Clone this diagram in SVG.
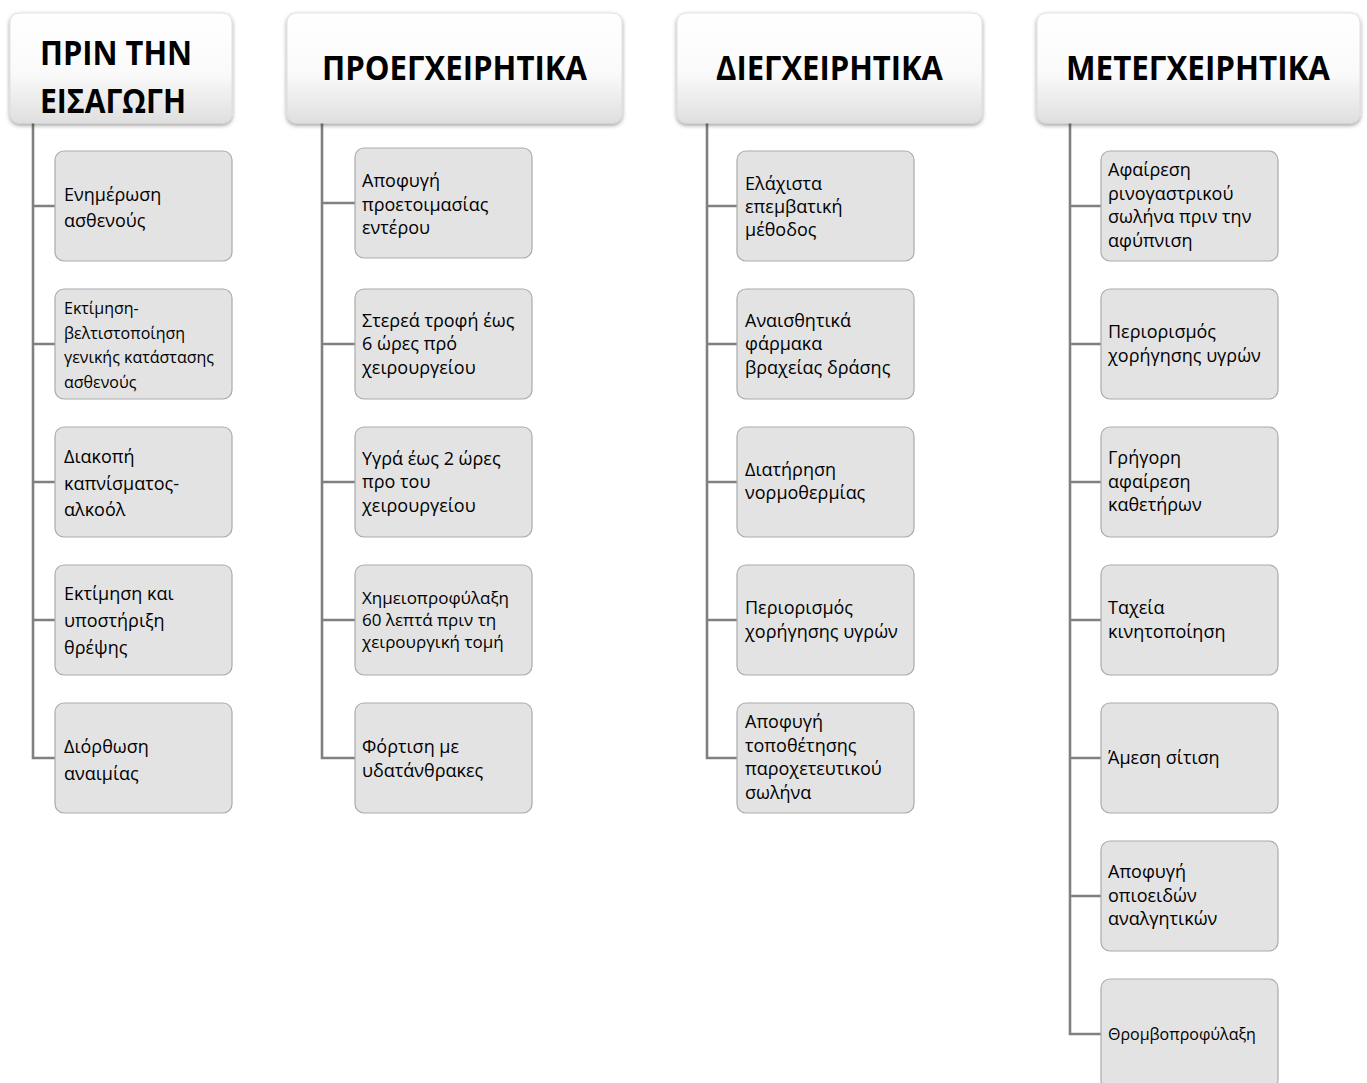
<svg xmlns="http://www.w3.org/2000/svg" width="1367" height="1083" viewBox="0 0 1367 1083">
<style>
.hdr{fill:url(#hg);stroke:#d9d9d9;stroke-width:0.8;filter:url(#sh)}
.ht{font-family:"Open Sans","Noto Sans","DejaVu Sans",sans-serif;font-weight:bold;font-size:34px;fill:#000}
.box{fill:#e3e3e3;stroke:#ababab;stroke-width:1.2}
.t{font-family:"Open Sans","Noto Sans","DejaVu Sans",sans-serif;font-size:18px;fill:#000}
.s{font-size:16px}
.m{font-size:17px}
.c{fill:none;stroke:#808080;stroke-width:2.6}
</style>
<defs>
<linearGradient id="hg" x1="0" y1="0" x2="0" y2="1">
<stop offset="0" stop-color="#ffffff"/>
<stop offset="0.55" stop-color="#fafafa"/>
<stop offset="1" stop-color="#dfdfdf"/>
</linearGradient>
<filter id="sh" x="-10%" y="-10%" width="120%" height="130%">
<feDropShadow dx="0" dy="2" stdDeviation="2.2" flood-color="#000" flood-opacity="0.4"/>
</filter>
</defs>
<rect width="1367" height="1083" fill="#fff"/>

<g id="connectors">
<path class="c" d="M33 123V758H55M33 206H55M33 344H55M33 482H55M33 620H55"/>
<path class="c" d="M322 123V758H355M322 203H355M322 344H355M322 482H355M322 620H355"/>
<path class="c" d="M707 123V758H737M707 206H737M707 344H737M707 482H737M707 620H737"/>
<path class="c" d="M1070 123V1034H1101M1070 206H1101M1070 344H1101M1070 482H1101M1070 620H1101M1070 758H1101M1070 896H1101"/>
</g>

<g id="h1"><rect class="hdr" x="10" y="13" width="222" height="110" rx="9"/>
<text class="ht" x="40" y="65" textLength="152" lengthAdjust="spacingAndGlyphs">ΠΡΙΝ ΤΗΝ</text>
<text class="ht" x="40" y="113" textLength="146" lengthAdjust="spacingAndGlyphs">ΕΙΣΑΓΩΓΗ</text></g>
<g id="h2"><rect class="hdr" x="287" y="13" width="335" height="110" rx="9"/>
<text class="ht" x="322" y="80" textLength="265" lengthAdjust="spacingAndGlyphs">ΠΡΟΕΓΧΕΙΡΗΤΙΚΑ</text></g>
<g id="h3"><rect class="hdr" x="677" y="13" width="305" height="110" rx="9"/>
<text class="ht" x="716" y="80" textLength="227" lengthAdjust="spacingAndGlyphs">ΔΙΕΓΧΕΙΡΗΤΙΚΑ</text></g>
<g id="h4"><rect class="hdr" x="1037" y="13" width="323" height="110" rx="9"/>
<text class="ht" x="1066" y="80" textLength="264" lengthAdjust="spacingAndGlyphs">ΜΕΤΕΓΧΕΙΡΗΤΙΚΑ</text></g>

<g id="c1n1"><rect class="box" x="55" y="151" width="177" height="110" rx="9"/>
<text class="t" x="64"><tspan x="64" y="201">Ενημέρωση</tspan><tspan x="64" y="227">ασθενούς</tspan></text></g>
<g id="c1n2"><rect class="box" x="55" y="289" width="177" height="110" rx="9"/>
<text class="t s" x="64"><tspan x="64" y="314">Εκτίμηση-</tspan><tspan x="64" y="339">βελτιστοποίηση</tspan><tspan x="64" y="363">γενικής κατάστασης</tspan><tspan x="64" y="388">ασθενούς</tspan></text></g>
<g id="c1n3"><rect class="box" x="55" y="427" width="177" height="110" rx="9"/>
<text class="t" x="64"><tspan x="64" y="463">Διακοπή</tspan><tspan x="64" y="490">καπνίσματος-</tspan><tspan x="64" y="516">αλκοόλ</tspan></text></g>
<g id="c1n4"><rect class="box" x="55" y="565" width="177" height="110" rx="9"/>
<text class="t" x="64"><tspan x="64" y="600">Εκτίμηση και</tspan><tspan x="64" y="627">υποστήριξη</tspan><tspan x="64" y="654">θρέψης</tspan></text></g>
<g id="c1n5"><rect class="box" x="55" y="703" width="177" height="110" rx="9"/>
<text class="t" x="64"><tspan x="64" y="753">Διόρθωση</tspan><tspan x="64" y="780">αναιμίας</tspan></text></g>

<g id="c2n1"><rect class="box" x="355" y="148" width="177" height="110" rx="9"/>
<text class="t" x="362"><tspan x="362" y="187">Αποφυγή</tspan><tspan x="362" y="211">προετοιμασίας</tspan><tspan x="362" y="234">εντέρου</tspan></text></g>
<g id="c2n2"><rect class="box" x="355" y="289" width="177" height="110" rx="9"/>
<text class="t" x="362"><tspan x="362" y="327">Στερεά τροφή έως</tspan><tspan x="362" y="350">6 ώρες πρό</tspan><tspan x="362" y="374">χειρουργείου</tspan></text></g>
<g id="c2n3"><rect class="box" x="355" y="427" width="177" height="110" rx="9"/>
<text class="t" x="362"><tspan x="362" y="465">Υγρά έως 2 ώρες</tspan><tspan x="362" y="488">προ του</tspan><tspan x="362" y="512">χειρουργείου</tspan></text></g>
<g id="c2n4"><rect class="box" x="355" y="565" width="177" height="110" rx="9"/>
<text class="t m" x="362"><tspan x="362" y="604">Χημειοπροφύλαξη</tspan><tspan x="362" y="626">60 λεπτά πριν τη</tspan><tspan x="362" y="648">χειρουργική τομή</tspan></text></g>
<g id="c2n5"><rect class="box" x="355" y="703" width="177" height="110" rx="9"/>
<text class="t" x="362"><tspan x="362" y="753">Φόρτιση με</tspan><tspan x="362" y="777">υδατάνθρακες</tspan></text></g>

<g id="c3n1"><rect class="box" x="737" y="151" width="177" height="110" rx="9"/>
<text class="t" x="745"><tspan x="745" y="190">Ελάχιστα</tspan><tspan x="745" y="213">επεμβατική</tspan><tspan x="745" y="236">μέθοδος</tspan></text></g>
<g id="c3n2"><rect class="box" x="737" y="289" width="177" height="110" rx="9"/>
<text class="t" x="745"><tspan x="745" y="327">Αναισθητικά</tspan><tspan x="745" y="350">φάρμακα</tspan><tspan x="745" y="374">βραχείας δράσης</tspan></text></g>
<g id="c3n3"><rect class="box" x="737" y="427" width="177" height="110" rx="9"/>
<text class="t" x="745"><tspan x="745" y="476">Διατήρηση</tspan><tspan x="745" y="499">νορμοθερμίας</tspan></text></g>
<g id="c3n4"><rect class="box" x="737" y="565" width="177" height="110" rx="9"/>
<text class="t" x="745"><tspan x="745" y="614">Περιορισμός</tspan><tspan x="745" y="638">χορήγησης υγρών</tspan></text></g>
<g id="c3n5"><rect class="box" x="737" y="703" width="177" height="110" rx="9"/>
<text class="t" x="745"><tspan x="745" y="728">Αποφυγή</tspan><tspan x="745" y="752">τοποθέτησης</tspan><tspan x="745" y="775">παροχετευτικού</tspan><tspan x="745" y="799">σωλήνα</tspan></text></g>

<g id="c4n1"><rect class="box" x="1101" y="151" width="177" height="110" rx="9"/>
<text class="t" x="1108"><tspan x="1108" y="176">Αφαίρεση</tspan><tspan x="1108" y="200">ρινογαστρικού</tspan><tspan x="1108" y="223">σωλήνα πριν την</tspan><tspan x="1108" y="247">αφύπνιση</tspan></text></g>
<g id="c4n2"><rect class="box" x="1101" y="289" width="177" height="110" rx="9"/>
<text class="t" x="1108"><tspan x="1108" y="338">Περιορισμός</tspan><tspan x="1108" y="362">χορήγησης υγρών</tspan></text></g>
<g id="c4n3"><rect class="box" x="1101" y="427" width="177" height="110" rx="9"/>
<text class="t" x="1108"><tspan x="1108" y="464">Γρήγορη</tspan><tspan x="1108" y="488">αφαίρεση</tspan><tspan x="1108" y="511">καθετήρων</tspan></text></g>
<g id="c4n4"><rect class="box" x="1101" y="565" width="177" height="110" rx="9"/>
<text class="t" x="1108"><tspan x="1108" y="614">Ταχεία</tspan><tspan x="1108" y="638">κινητοποίηση</tspan></text></g>
<g id="c4n5"><rect class="box" x="1101" y="703" width="177" height="110" rx="9"/>
<text class="t" x="1108" y="764">Άμεση σίτιση</text></g>
<g id="c4n6"><rect class="box" x="1101" y="841" width="177" height="110" rx="9"/>
<text class="t" x="1108"><tspan x="1108" y="878">Αποφυγή</tspan><tspan x="1108" y="902">οπιοειδών</tspan><tspan x="1108" y="925">αναλγητικών</tspan></text></g>
<g id="c4n7"><rect class="box" x="1101" y="979" width="177" height="110" rx="9"/>
<text class="t s" x="1108" y="1040">Θρομβοπροφύλαξη</text></g>
</svg>
